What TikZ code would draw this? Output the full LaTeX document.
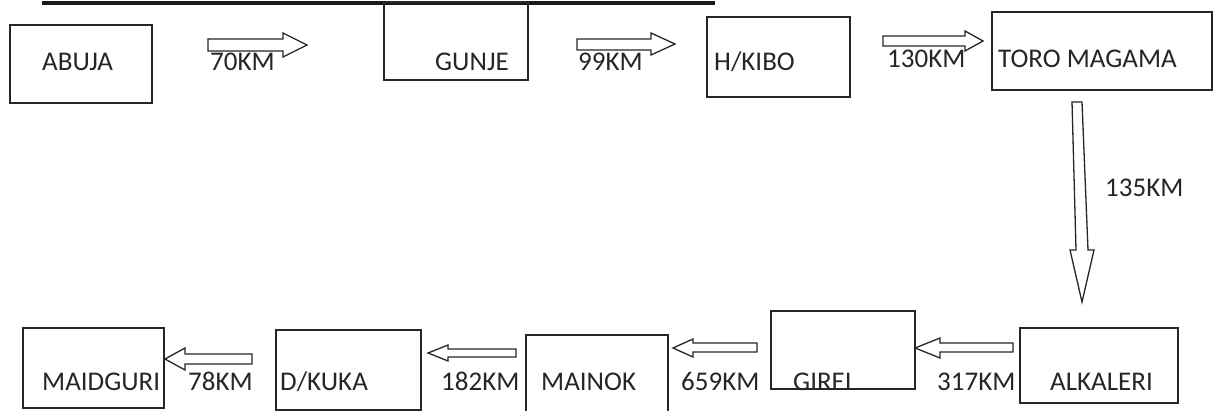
\documentclass[tikz,border=0pt]{standalone}
\usepackage{fontspec}
\setmainfont{Carlito}
\begin{document}
\begin{tikzpicture}[x=1pt,y=-1pt,
  box/.style={draw=black!85, line width=1.3pt, inner sep=0pt},
  lbl/.style={font=\fontsize{27}{31}\selectfont, text=black!85, inner sep=0pt, anchor=base west},
  blk/.style={draw=black!85, line width=1.3pt, fill=white, line join=miter},
  rule/.style={draw=black!90, line width=4.5pt}]
\clip (0,0) rectangle (1214,411);
\fill[white] (0,0) rectangle (1214,411);
% heavy line at the top
\coordinate (r1) at (42,3);
\coordinate (r2) at (715,3);
\draw[rule] (r1) -- (r2);
% boxes
\node[box, minimum width=142pt, minimum height=78pt] (abuja) at (81,64) {};
\node[box, minimum width=144pt, minimum height=78pt] (gunje) at (456,41) {};
\node[box, minimum width=143pt, minimum height=80pt] (hkibo) at (778.5,57) {};
\node[box, minimum width=220pt, minimum height=78pt] (toro) at (1102,51) {};
\node[box, minimum width=158pt, minimum height=75pt] (alkaleri) at (1099,365.5) {};
\node[box, minimum width=144pt, minimum height=78pt] (girei) at (843,350) {};
\node[box, minimum width=142pt, minimum height=80pt] (mainok) at (597,375) {};
\node[box, minimum width=145pt, minimum height=80pt] (dkuka) at (348.5,370) {};
\node[box, minimum width=141pt, minimum height=80pt] (maidguri) at (93.5,368) {};
% block arrows
\draw[blk] (208,39) -- (283,39) -- (283,33) -- (307,45) -- (283,57) -- (283,51) -- (208,51) -- cycle;
\draw[blk] (577,39) -- (651,39) -- (651,33) -- (675,44) -- (651,55) -- (651,50) -- (577,50) -- cycle;
\draw[blk] (883,36) -- (965,36) -- (965,31) -- (983,41) -- (965,51) -- (965,46) -- (883,46) -- cycle;
\draw[blk] (1072,102) -- (1082,102) -- (1088,250) -- (1094,250) -- (1082,302) -- (1070,250) -- (1076,250) -- cycle;
\draw[blk] (1013,343) -- (940,343) -- (940,338) -- (915,348) -- (940,358) -- (940,352) -- (1013,352) -- cycle;
\draw[blk] (757,343) -- (693,343) -- (693,339) -- (673,348) -- (693,357) -- (693,352) -- (757,352) -- cycle;
\draw[blk] (516,349) -- (448,349) -- (448,345) -- (428,353) -- (448,361) -- (448,357) -- (516,357) -- cycle;
\draw[blk] (252,354) -- (185,354) -- (185,348) -- (165,359) -- (185,370) -- (185,364) -- (252,364) -- cycle;
% texts
\node[lbl] (t-abuja) at (42,71) {ABUJA};
\node[lbl] (t-70) at (210,71) {70KM};
\node[lbl] (t-gunje) at (435,71) {GUNJE};
\node[lbl] (t-99) at (578,71) {99KM};
\node[lbl] (t-hkibo) at (714,71) {H/KIBO};
\node[lbl] (t-130) at (887,68) {130KM};
\node[lbl] (t-toro) at (998,68) {TORO MAGAMA};
\node[lbl] (t-135) at (1105,197) {135KM};
\node[lbl] (t-maidguri) at (42,390) {MAIDGURI};
\node[lbl] (t-78) at (188,390) {78KM};
\node[lbl] (t-dkuka) at (280,390) {D/KUKA};
\node[lbl] (t-182) at (441,390) {182KM};
\node[lbl] (t-mainok) at (541,390) {MAINOK};
\node[lbl] (t-659) at (681,390) {659KM};
\node[lbl] (t-girei) at (793,390) {GIREI};
\node[lbl] (t-317) at (937,390) {317KM};
\node[lbl] (t-alkaleri) at (1050,390) {ALKALERI};
\end{tikzpicture}
\end{document}
